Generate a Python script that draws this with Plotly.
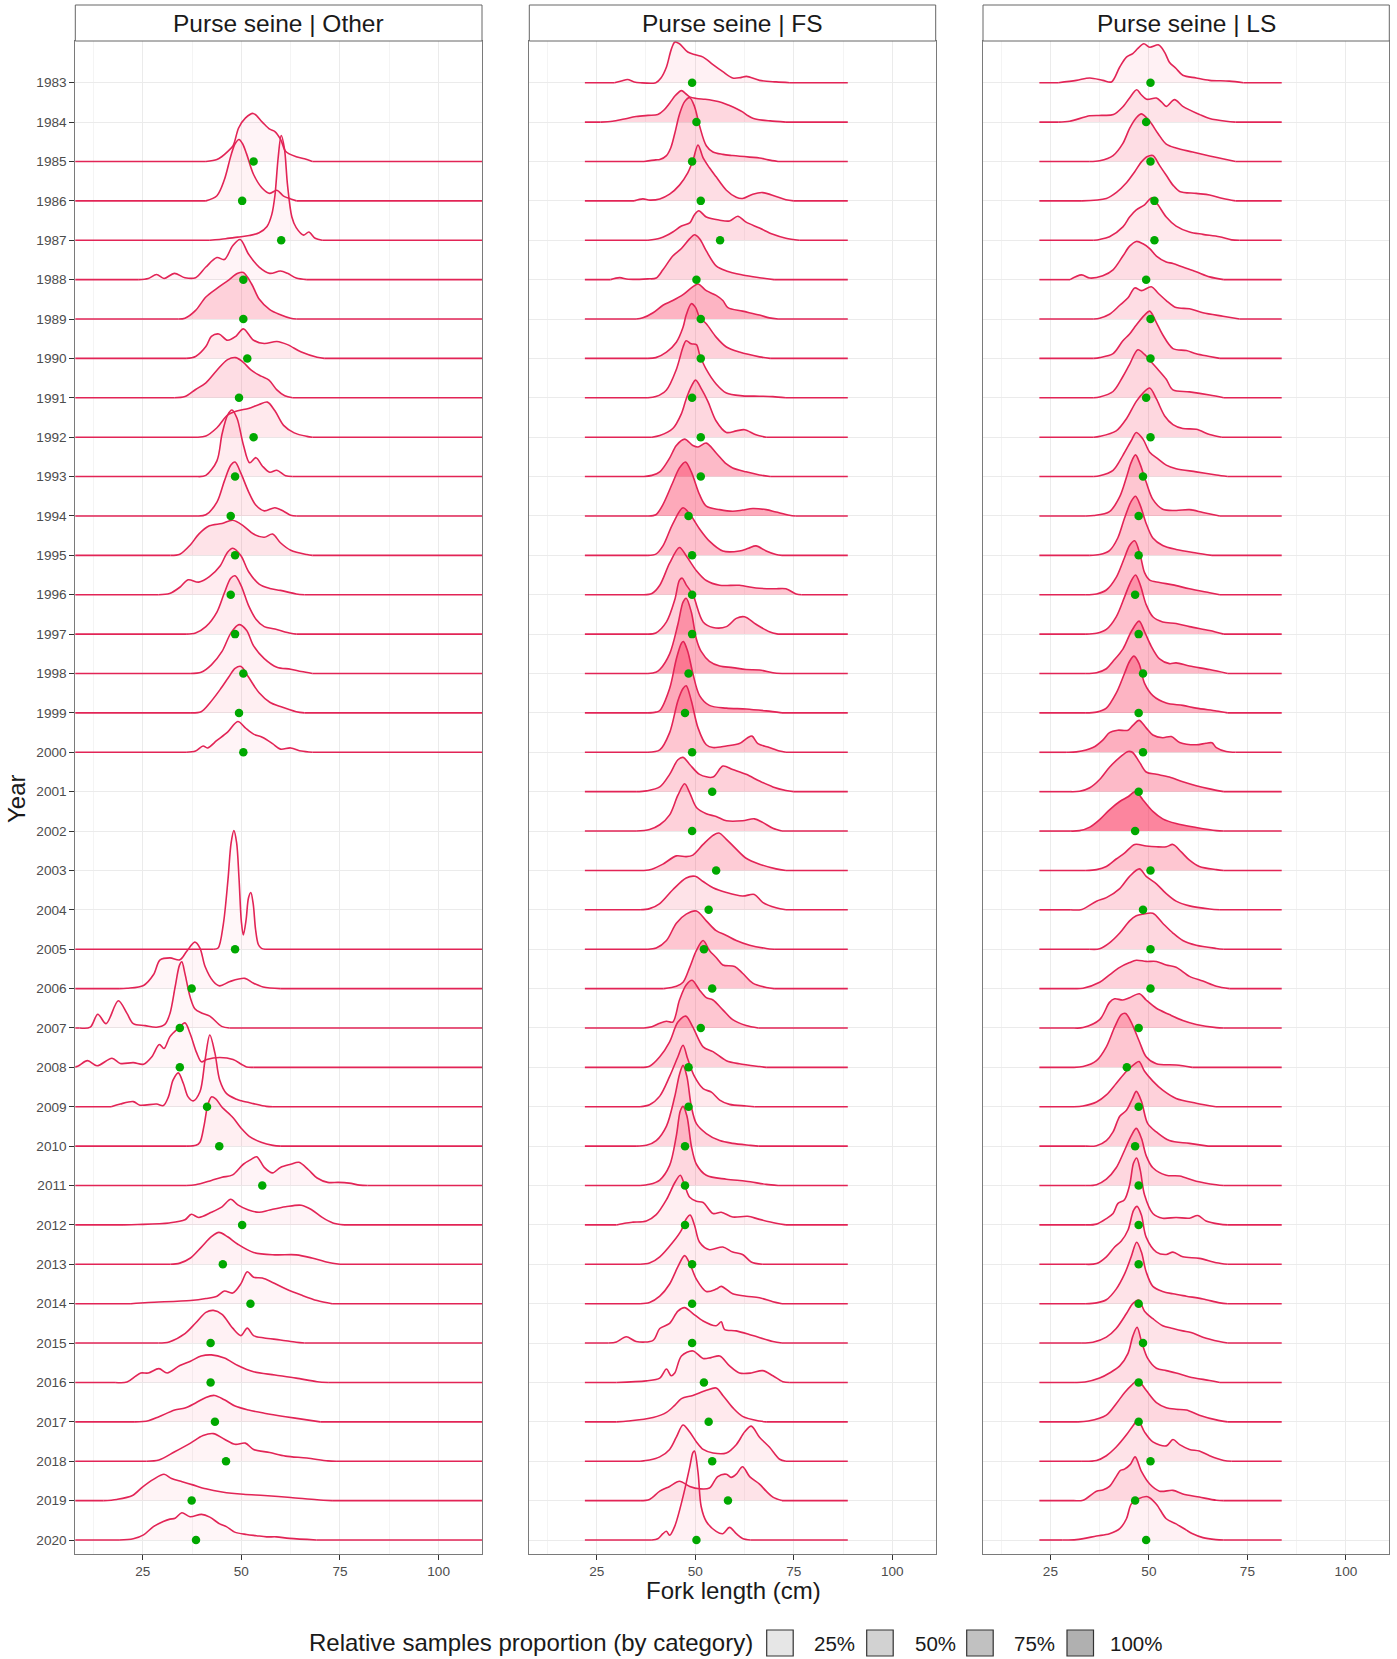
import plotly.graph_objects as go

# ---------------- data ----------------
YEARS = list(range(1983, 2021))
YEAR_LABELS = [str(y) for y in YEARS]
X_TICKS = [25, 50, 75, 100]
X_TICK_LABELS = ["25", "50", "75", "100"]
X_MINOR = [12.5, 37.5, 62.5, 87.5]
PANEL_TITLES = ["Purse seine | Other", "Purse seine | FS", "Purse seine | LS"]
LEGEND_LABELS = ["25%", "50%", "75%", "100%"]
LEGEND_GREYS = ["#E6E6E6", "#D2D2D2", "#C1C1C1", "#B0B0B0"]

# ridge = list of (fork length cm, ridge height in rows) knots
OTHER_YEARS = list(range(1985, 2001)) + list(range(2005, 2021))
OTHER_SPAN = (7.0, 112.0)
OTHER_MEAN = [53.1, 50.2, 60.1, 50.5, 50.5, 51.5, 49.4, 53.1, 48.4, 47.3, 48.4, 47.3, 48.4, 50.5, 49.4, 50.5,
              48.4, 37.4, 34.4, 34.4, 41.3, 44.4, 55.3, 50.2, 45.3, 52.3, 42.2, 42.2, 43.3, 46.1, 37.4, 38.5]
OTHER_PROP = [0.05, 0.07, 0.05, 0.05, 0.35, 0.15, 0.25, 0.15, 0.12, 0.15, 0.2, 0.12, 0.12, 0.08, 0.1, 0.05,
              0.03, 0.04, 0.04, 0.04, 0.05, 0.1, 0.05, 0.05, 0.08, 0.05, 0.08, 0.05, 0.08, 0.06, 0.06, 0.04]
OTHER_RIDGES = [
    [(41,0),(43.8,0.05),(45,0.12),(46.5,0.25),(47.9,0.4),(49.3,0.85),(51,1.1),(53,1.22),(55.3,1.0),(57.2,0.82),(58.5,0.76),(60,0.55),(61.2,0.26),(63.9,0.12),(66,0.07),(68,0)],
    [(41,0),(43.8,0.13),(45.7,0.54),(47.3,1.13),(48.4,1.45),(49.4,1.56),(50.3,1.45),(51.3,1.2),(53.1,0.67),(55.3,0.32),(57.2,0.19),(59,0.27),(60.7,0.12),(62.5,0.05),(64,0)],
    [(42,0),(46,0.04),(49.1,0.08),(52,0.12),(54.5,0.19),(56.5,0.35),(57.7,0.65),(58.5,1.13),(59.3,2.07),(60.1,2.66),(60.9,2.34),(61.7,1.4),(62.8,0.59),(63.9,0.32),(65.8,0.13),(67.1,0.21),(68.7,0.05),(70.5,0)],
    [(24,0),(26.4,0.03),(28.5,0.13),(30.4,0.03),(33,0.16),(35.7,0.05),(38.4,0.05),(41,0.32),(43.8,0.56),(45.7,0.51),(47.8,0.86),(49.7,1.02),(51.8,0.65),(54.5,0.32),(57.2,0.16),(59.9,0.22),(61.7,0.16),(63.9,0.04),(66.6,0)],
    [(34,0),(35.7,0.02),(38.4,0.22),(41,0.56),(43.8,0.78),(46.5,0.97),(49.1,1.16),(50.5,1.18),(52.6,0.89),(54.5,0.51),(57.2,0.24),(59.9,0.11),(62.5,0.02),(64,0)],
    [(36,0),(38.4,0.05),(41,0.3),(42.4,0.56),(44.3,0.62),(46.5,0.46),(48.6,0.56),(50.5,0.75),(53.1,0.46),(55.8,0.38),(59,0.43),(61.7,0.35),(65.2,0.16),(69.2,0.03),(71,0)],
    [(33,0),(35.7,0.03),(38.4,0.21),(41,0.38),(43.8,0.7),(46.5,0.97),(48.6,1.02),(50.5,0.9),(52.5,0.7),(55,0.55),(57,0.45),(59,0.2),(61,0.05),(63,0)],
    [(39,0),(41,0.03),(43.8,0.24),(46.5,0.56),(49.1,0.67),(51.8,0.73),(54.5,0.83),(56.6,0.89),(58.5,0.67),(60.7,0.3),(63.4,0.11),(66.6,0.02),(68,0)],
    [(39,0),(41,0.03),(43.8,0.4),(45.1,1.08),(46.5,1.56),(47.6,1.69),(48.9,1.48),(50.5,0.81),(52.1,0.35),(53.7,0.48),(55.3,0.27),(57.2,0.11),(59,0.16),(61.2,0.02),(63,0)],
    [(39,0),(41,0.03),(43.8,0.35),(45.7,0.89),(47.3,1.29),(48.4,1.37),(49.9,1.08),(51.8,0.62),(53.7,0.27),(55.8,0.13),(58.5,0.21),(60.7,0.12),(62.5,0.02),(64,0)],
    [(32,0),(34.4,0.03),(37.1,0.27),(39.2,0.54),(41.9,0.75),(45.1,0.81),(47.8,0.89),(50.5,0.75),(53.1,0.54),(55.8,0.46),(57.9,0.54),(59.9,0.32),(62.5,0.13),(66.6,0.02),(68,0)],
    [(29,0),(31.8,0.03),(34.4,0.19),(36.5,0.38),(39.2,0.32),(41.9,0.46),(44.6,0.73),(46.5,1.08),(47.8,1.18),(49.9,0.99),(51.8,0.59),(54.5,0.27),(57.2,0.16),(59.9,0.11),(63.9,0.02),(66,0)],
    [(36,0),(38.4,0.03),(41,0.19),(43.8,0.56),(45.7,1.05),(47.3,1.42),(48.4,1.48),(49.9,1.24),(51.8,0.73),(53.7,0.38),(55.8,0.19),(58.5,0.13),(62.5,0.02),(64,0)],
    [(37,0),(39.8,0.03),(42.4,0.22),(45.1,0.56),(47.3,1.02),(49.4,1.24),(51.3,1.1),(53.1,0.7),(55.8,0.38),(59,0.16),(62.5,0.11),(65.2,0.05),(68,0)],
    [(37,0),(39.8,0.03),(41.9,0.24),(44.6,0.59),(46.8,0.91),(48.4,1.13),(49.9,1.18),(51.8,0.91),(54.5,0.51),(57.2,0.27),(59.9,0.16),(63.9,0.03),(66,0)],
    [(36,0),(38.4,0.03),(40.3,0.16),(41.4,0.11),(43.8,0.3),(46.5,0.51),(49.1,0.78),(51,0.62),(53.1,0.46),(55.3,0.38),(57.9,0.22),(59.9,0.08),(62.5,0.11),(65.2,0.03),(68,0)],
    [(43,0),(44.1,0.03),(45.4,0.62),(46.6,1.76),(47.4,2.7),(48.1,3.01),(48.8,2.7),(49.4,1.8),(50,0.7),(50.5,0.36),(51.2,0.75),(51.8,1.3),(52.4,1.44),(53,1.15),(53.6,0.5),(54.3,0.12),(55.1,0.02),(56,0)],
    [(19,0),(21,0.01),(25.2,0.08),(27.7,0.35),(29.4,0.73),(31.9,0.78),(34.4,0.73),(36.1,0.94),(38.2,1.18),(39.5,1.03),(40.8,0.56),(42.9,0.18),(44.5,0.07),(47.1,0.18),(50.9,0.26),(53,0.14),(55.5,0.04),(60,0)],
    [(9,0),(11.7,0.02),(13.6,0.35),(15.7,0.11),(18.8,0.69),(21,0.37),(22.6,0.11),(25.6,0.06),(28.5,0.02),(30.6,0.09),(31.9,0.37),(33.2,1.04),(34.3,1.59),(34.9,1.68),(35.7,1.38),(37,0.79),(38.2,0.49),(39.9,0.38),(42,0.3),(45,0.04),(47,0)],
    [(7,0),(8.5,0.03),(11,0.17),(13.4,0.04),(17.2,0.23),(19.3,0.1),(22.6,0.12),(25.2,0.08),(27.3,0.27),(29.2,0.58),(30.4,0.48),(31.9,0.78),(34,0.99),(35.7,1.13),(37,0.86),(38.7,0.36),(39.9,0.14),(41.2,0.2),(44.5,0.25),(47.9,0.2),(50,0.08),(51.3,0.01),(53,0)],
    [(17,0),(19.3,0.07),(22.6,0.13),(24.3,0.04),(28.5,0.07),(30.2,0.03),(31.5,0.25),(32.7,0.68),(34,0.86),(35.3,0.59),(36.5,0.25),(37.8,0.15),(39.5,0.38),(40.8,1.19),(42,1.82),(43.3,1.36),(44.5,0.68),(46.2,0.34),(48.8,0.19),(50,0.15),(53,0.08),(56.3,0.01),(58,0)],
    [(36,0),(38.5,0.02),(39.5,0.1),(40.5,0.5),(41.5,1.05),(42.4,1.25),(43.5,1.2),(45,1.0),(47.9,0.72),(50,0.45),(52,0.25),(55,0.1),(58,0.02),(60,0)],
    [(36,0),(38.4,0.02),(42.4,0.13),(45.1,0.21),(47.8,0.27),(50.5,0.54),(52.6,0.67),(53.9,0.73),(55.8,0.46),(57.9,0.32),(59.9,0.46),(62.5,0.54),(64.6,0.59),(67,0.4),(69.2,0.19),(71.9,0.08),(74.6,0.08),(77.3,0.06),(80,0.01),(82,0)],
    [(20,0),(23.7,0.01),(31.7,0.05),(35.7,0.13),(37.3,0.27),(39.2,0.19),(42.4,0.32),(45.1,0.46),(47.3,0.65),(49.1,0.51),(51.8,0.38),(54.5,0.32),(57.2,0.38),(61.2,0.46),(65.2,0.5),(67.9,0.38),(70.5,0.19),(73.2,0.05),(76,0)],
    [(32,0),(34.4,0.03),(37.1,0.16),(39.8,0.43),(42.4,0.7),(44.3,0.81),(46.5,0.7),(49.1,0.51),(53.1,0.3),(58.5,0.24),(63.9,0.24),(67.9,0.16),(71.9,0.05),(75,0)],
    [(22,0),(26.4,0.03),(37.1,0.08),(41,0.13),(43.8,0.19),(45.7,0.32),(47.8,0.27),(49.9,0.51),(51.5,0.81),(53.1,0.67),(55.3,0.65),(57.9,0.54),(61.2,0.38),(65.2,0.22),(69.2,0.08),(73,0)],
    [(29,0),(31.7,0.03),(35.7,0.24),(38.4,0.51),(41,0.78),(42.9,0.83),(45.1,0.73),(47.8,0.38),(49.9,0.19),(51.5,0.38),(53.1,0.19),(55.8,0.13),(59.9,0.08),(63.9,0.02),(66,0)],
    [(18,0),(21,0.01),(23.2,0.16),(24.5,0.24),(26.4,0.24),(29.1,0.35),(31.2,0.24),(34.4,0.43),(37.1,0.54),(39.8,0.67),(42.4,0.7),(45.7,0.62),(49.1,0.43),(53.1,0.27),(58.5,0.19),(63.9,0.11),(69.2,0.02),(72,0)],
    [(23,0),(26.4,0.03),(29.1,0.13),(33.1,0.3),(35.7,0.35),(38.4,0.48),(41,0.62),(43.2,0.67),(45.7,0.56),(48.4,0.4),(51.8,0.3),(55.8,0.22),(61.2,0.13),(66.6,0.05),(70,0)],
    [(26,0),(29.1,0.03),(33.1,0.24),(37.1,0.46),(40.3,0.65),(42.9,0.7),(45.7,0.56),(48.4,0.43),(51,0.46),(53.1,0.3),(57.2,0.22),(61.2,0.13),(66.6,0.08),(71.9,0.01),(74,0)],
    [(15,0),(18.4,0.03),(22.4,0.13),(25,0.35),(27.7,0.54),(30.4,0.67),(32.3,0.56),(35,0.48),(37.7,0.4),(41,0.3),(45.1,0.22),(50.5,0.16),(55.8,0.13),(62.5,0.08),(69.2,0.02),(73,0)],
    [(19,0),(22.6,0.03),(25.2,0.13),(27.7,0.34),(30.2,0.47),(31.9,0.53),(33.2,0.55),(34.9,0.69),(37,0.59),(39.9,0.65),(42,0.58),(44.5,0.41),(46.2,0.34),(48.3,0.2),(51.3,0.14),(53.8,0.11),(56.4,0.08),(58.9,0.08),(62.2,0.04),(69,0)],
]

FS_YEARS = YEARS
FS_SPAN = (22.0, 88.7)
FS_MEAN = [49.2, 50.3, 49.2, 51.4, 56.3, 50.3, 51.4, 51.4, 49.2, 51.4, 51.4, 48.3, 49.2, 49.2, 49.2, 48.3, 47.4, 49.2, 54.3,
           49.2, 55.3, 53.4, 52.2, 54.3, 51.4, 48.3, 48.3, 47.4, 47.4, 47.4, 49.2, 49.2, 49.2, 52.2, 53.4, 54.3, 58.3, 50.3]
FS_PROP = [0.08, 0.3, 0.3, 0.25, 0.25, 0.3, 0.6, 0.35, 0.25, 0.3, 0.55, 0.7, 0.5, 0.45, 0.35, 0.65, 0.7, 0.45, 0.35,
           0.35, 0.4, 0.2, 0.45, 0.45, 0.45, 0.35, 0.15, 0.3, 0.3, 0.1, 0.12, 0.12, 0.1, 0.1, 0.15, 0.1, 0.2, 0.08]
FS_RIDGES = [
    [(29.5,0),(31.5,0.05),(32.8,0.08),(34.5,0.02),(36,0),(40,0),(41.3,0.12),(42.7,0.4),(43.9,0.84),(44.8,1.03),(46,0.99),(48.1,0.78),(50,0.71),(52,0.65),(54.5,0.46),(57,0.28),(59.5,0.12),(61.5,0.13),(63,0.16),(66.3,0.06),(70.5,0.02),(74,0)],
    [(26,0),(29,0.02),(32,0.08),(35,0.14),(38,0.17),(40.5,0.19),(42,0.3),(43.5,0.48),(45,0.68),(46.5,0.8),(47.6,0.72),(48.6,0.64),(50.3,0.6),(52.5,0.58),(54.5,0.55),(56.7,0.5),(58.7,0.42),(60.5,0.34),(62,0.26),(63.4,0.16),(64.6,0.1),(67,0.05),(69,0.03),(73,0)],
    [(37,0),(40,0.04),(41,0.05),(42.7,0.15),(43.8,0.35),(44.8,0.71),(46,1.2),(47.3,1.52),(48.6,1.62),(49.8,1.4),(51.1,0.9),(52.8,0.4),(54.5,0.24),(57,0.18),(59.5,0.15),(63.8,0.11),(66.3,0.09),(68.5,0.04),(71,0)],
    [(34.5,0),(36.7,0.05),(38.5,0.02),(41,0.05),(43.5,0.17),(46,0.4),(48.1,0.71),(49.4,1.02),(50.7,1.42),(52,1.09),(53.6,0.84),(55.3,0.61),(57.9,0.27),(60.4,0.09),(62,0.06),(64.6,0.17),(67.1,0.21),(70.5,0.11),(73,0.03),(75,0)],
    [(38,0),(41,0.05),(42.7,0.12),(44.3,0.21),(46.5,0.36),(48.6,0.44),(49.8,0.65),(50.9,0.75),(52.8,0.59),(56.2,0.51),(58.7,0.49),(60.8,0.61),(62.9,0.46),(66.3,0.31),(69.7,0.15),(73,0.05),(76.4,0)],
    [(28.5,0),(30.8,0.05),(33,0.01),(38,0.02),(40.1,0.04),(41.8,0.25),(44.3,0.6),(46.5,0.79),(48.6,1.04),(49.8,1.14),(51.1,1.04),(52.8,0.73),(55.3,0.35),(57.9,0.22),(62,0.12),(66.3,0.05),(70,0)],
    [(35,0),(36.7,0.03),(39.3,0.16),(41.8,0.35),(44.3,0.47),(46.9,0.62),(49,0.79),(50.7,0.89),(52.8,0.72),(55.3,0.6),(57,0.47),(58.3,0.29),(62,0.2),(66.3,0.1),(68.8,0.03),(71,0)],
    [(38,0),(40,0.02),(42.7,0.16),(45.2,0.41),(46.9,0.79),(47.7,1.1),(49,1.39),(50.1,1.29),(51.1,1.04),(52.8,0.88),(55.3,0.54),(57.9,0.29),(61.2,0.16),(66.3,0.04),(69,0)],
    [(38,0),(40,0.03),(42.7,0.2),(45.2,0.72),(46.9,1.29),(47.7,1.45),(49,1.37),(50.3,1.35),(51.1,1.1),(52.8,0.72),(55.3,0.35),(57.9,0.12),(62,0.05),(66.3,0.04),(69.7,0.03),(73,0)],
    [(39,0),(41,0.04),(44.3,0.22),(46.5,0.6),(47.7,0.97),(49,1.29),(50.1,1.45),(51.6,1.22),(53.2,0.91),(55.3,0.41),(57.9,0.12),(60.4,0.16),(62.5,0.19),(65.4,0.06),(68,0)],
    [(37,0),(39,0.03),(41,0.12),(43.5,0.47),(45.2,0.79),(47.3,0.95),(49.4,0.79),(50.7,0.75),(52.8,0.85),(55.3,0.6),(57.9,0.32),(59.5,0.22),(62.9,0.12),(66.3,0.04),(69,0)],
    [(38,0),(40,0.03),(41.8,0.29),(44.3,0.85),(46,1.22),(47.5,1.37),(49,1.12),(51.1,0.54),(52.8,0.25),(56.2,0.16),(59.5,0.12),(62,0.15),(64.6,0.19),(68,0.16),(70.5,0.1),(73.9,0.02),(75.5,0)],
    [(38,0),(40,0.03),(41.8,0.24),(44.3,0.8),(46.9,1.21),(49,0.99),(51.1,0.67),(53.6,0.36),(57,0.11),(61.2,0.11),(63.5,0.18),(65.4,0.24),(68,0.11),(70.5,0.02),(72,0)],
    [(37,0),(39,0.03),(41,0.24),(43.5,0.8),(46,1.2),(47.7,0.99),(50.3,0.61),(52.8,0.36),(56.2,0.24),(61.2,0.24),(65.4,0.17),(70,0.15),(73,0.15),(75.6,0.02),(77,0)],
    [(38,0),(40,0.03),(42.7,0.31),(44.8,0.87),(46,1.37),(46.7,1.42),(47.7,1.25),(49.4,1.0),(52,0.31),(54.5,0.17),(57.9,0.19),(60.4,0.4),(62.5,0.44),(65.4,0.25),(68.8,0.06),(71,0)],
    [(38,0),(40,0.03),(41,0.1),(43.5,0.5),(45.6,1.25),(46.9,1.81),(47.7,1.91),(49,1.56),(50.3,0.87),(51.5,0.56),(53.6,0.31),(56.2,0.19),(59.5,0.15),(62.9,0.1),(66.3,0.09),(69.7,0.02),(72,0)],
    [(38,0),(40,0.02),(41,0.06),(43.5,0.62),(45.2,1.37),(46.5,1.77),(47,1.81),(48.1,1.56),(49.4,1.0),(51.1,0.44),(53.6,0.19),(57.9,0.12),(62.9,0.1),(68,0.05),(72,0)],
    [(38,0),(41,0.06),(43.5,0.5),(45.6,1.31),(46.9,1.62),(47.7,1.69),(49,1.31),(50.7,0.62),(52.8,0.19),(54.5,0.12),(57.9,0.16),(61.2,0.22),(63.3,0.37),(64.4,0.41),(65.9,0.22),(68.8,0.12),(71.4,0.03),(73,0)],
    [(35,0),(37.6,0.02),(41,0.12),(43.5,0.44),(45.6,0.81),(46.9,0.87),(48.6,0.69),(51.1,0.44),(54.5,0.37),(57,0.65),(59.5,0.56),(62.9,0.44),(66.3,0.27),(69.7,0.12),(73,0.03),(75,0)],
    [(35,0),(38.4,0.04),(41,0.16),(43.5,0.41),(45.6,0.91),(47.3,1.2),(48.6,0.97),(50.3,0.6),(52.8,0.44),(55.3,0.37),(57.9,0.26),(62,0.26),(65,0.31),(67.1,0.22),(69.7,0.07),(72,0)],
    [(37,0),(39,0.03),(41.8,0.16),(45.2,0.37),(47.7,0.35),(49.4,0.39),(52,0.66),(54.5,0.89),(56,0.95),(57.9,0.79),(60.4,0.54),(62.9,0.31),(66.3,0.16),(70.5,0.04),(73,0)],
    [(36,0),(38.4,0.03),(41,0.16),(44.3,0.51),(47.7,0.81),(50,0.85),(52,0.72),(54.5,0.56),(57.9,0.44),(62,0.35),(65,0.39),(67.1,0.19),(70.5,0.05),(73,0)],
    [(38,0),(40.1,0.03),(42.7,0.22),(45.2,0.66),(47.7,0.89),(50.3,0.97),(52.8,0.72),(55.3,0.47),(57.9,0.35),(60.4,0.22),(63.8,0.1),(68,0.02),(70,0)],
    [(42,0),(45.2,0.06),(46.9,0.16),(48.6,0.54),(50.3,0.97),(52,1.22),(53.6,0.97),(55.3,0.79),(57,0.6),(60,0.56),(62,0.39),(64.6,0.14),(68,0.03),(70,0)],
    [(37,0),(39,0.03),(41,0.12),(42.7,0.17),(44.3,0.15),(46,0.71),(47.7,1.09),(49.2,1.21),(51.1,0.96),(52.8,0.77),(54.5,0.71),(57,0.46),(59.5,0.21),(62.9,0.06),(66,0)],
    [(36,0),(38.4,0.03),(41,0.27),(43.5,0.65),(45.6,1.15),(47.6,1.3),(49.4,1.02),(52,0.52),(54.5,0.4),(57.9,0.17),(61.2,0.09),(66.3,0.02),(68,0)],
    [(36,0),(38.4,0.05),(41,0.27),(43.5,0.77),(45.6,1.27),(46.9,1.56),(48.1,1.21),(49.8,0.77),(52,0.46),(54.1,0.37),(56.2,0.17),(58.7,0.06),(62.9,0.02),(65,0)],
    [(35,0),(37.6,0.02),(40.1,0.14),(42.7,0.51),(44.8,1.26),(46,1.82),(46.9,2.05),(47.9,1.76),(49,1.01),(50.3,0.57),(52.8,0.32),(56.2,0.14),(59.5,0.07),(64,0.02),(66,0)],
    [(36,0),(38.4,0.03),(41,0.14),(43.5,0.51),(45.2,1.26),(46.2,1.89),(46.9,2.01),(47.9,1.76),(49,1.01),(50.3,0.54),(52.8,0.26),(57.9,0.16),(62.9,0.11),(68,0.03),(71,0)],
    [(30,0),(32.5,0.05),(34.2,0.07),(37.6,0.1),(40.1,0.26),(42.7,0.64),(44.8,1.07),(46.2,1.26),(47.3,1.01),(48.6,0.7),(50.3,0.6),(52,0.57),(54.5,0.29),(56.6,0.32),(59.5,0.2),(63.3,0.22),(66.3,0.14),(70.5,0.04),(73,0)],
    [(36,0),(38.4,0.03),(41,0.19),(44.3,0.56),(46.5,0.87),(47.7,1.15),(48.7,1.25),(49.8,1.0),(51.1,0.56),(53.6,0.37),(57,0.44),(59.5,0.31),(62,0.25),(64.2,0.06),(67,0)],
    [(36,0),(38.4,0.03),(41,0.19),(43.5,0.5),(45.6,0.94),(47.3,1.22),(48.6,1.02),(50.3,0.62),(52.8,0.31),(55.3,0.37),(56.6,0.44),(59.5,0.25),(62.9,0.19),(66.3,0.15),(69.7,0.05),(72,0)],
    [(28,0),(30,0.03),(32.5,0.16),(35,0.04),(39.3,0.07),(41,0.37),(43.5,0.5),(45.6,0.81),(47.3,0.9),(49.4,0.75),(52,0.56),(55.3,0.44),(56.6,0.54),(57.4,0.35),(60.4,0.31),(64.6,0.19),(69.7,0.04),(72,0)],
    [(30,0),(37.6,0.04),(41,0.11),(42.7,0.34),(43.9,0.17),(44.8,0.24),(46.5,0.67),(49.4,0.8),(52,0.61),(54,0.63),(56.2,0.67),(58.7,0.42),(61.2,0.24),(64.2,0.24),(67.1,0.3),(69.7,0.17),(72.2,0.02),(74,0)],
    [(30,0),(33,0.02),(39.3,0.11),(42.7,0.24),(44.8,0.42),(46.5,0.59),(49.4,0.67),(52.8,0.8),(55.3,0.86),(57,0.67),(59.5,0.36),(62,0.14),(66.3,0.02),(68,0)],
    [(36,0),(38.4,0.03),(41,0.11),(43.5,0.3),(45.2,0.61),(46.9,0.92),(48.6,0.74),(50.3,0.49),(52,0.3),(54.5,0.21),(57.9,0.21),(60.4,0.42),(62.5,0.74),(64.2,0.89),(66.3,0.61),(68.8,0.36),(71.4,0.05),(73,0)],
    [(36,0),(38.4,0.03),(41,0.24),(43.5,0.36),(46,0.49),(48.6,0.36),(51.1,0.3),(53.6,0.32),(55.7,0.61),(57.9,0.67),(59.1,0.59),(60.4,0.67),(62,0.86),(63.8,0.61),(66.3,0.42),(68,0.24),(69.7,0.09),(72,0)],
    [(39,0),(40.5,0.03),(41.8,0.16),(42.7,0.22),(43.5,0.12),(44.8,0.35),(46.9,1.1),(48.6,1.85),(49.4,2.22),(49.8,2.26),(50.7,1.72),(51.5,0.85),(52.8,0.47),(55.3,0.22),(57,0.16),(58.7,0.32),(60.4,0.16),(62,0.04),(64,0)],
]

LS_YEARS = YEARS
LS_SPAN = (22.2, 83.7)
LS_MEAN = [50.4, 49.3, 50.4, 51.4, 51.4, 49.3, 50.4, 50.4, 49.3, 50.4, 48.5, 47.4, 47.4, 46.5, 47.4, 48.5, 47.4, 48.5, 47.4,
           46.5, 50.4, 48.5, 50.4, 50.4, 47.4, 44.4, 47.4, 46.5, 47.4, 47.4, 47.4, 47.4, 48.5, 47.4, 47.4, 50.4, 46.5, 49.3]
LS_PROP = [0.08, 0.2, 0.25, 0.15, 0.15, 0.25, 0.25, 0.3, 0.3, 0.3, 0.3, 0.45, 0.45, 0.5, 0.5, 0.55, 0.6, 0.65, 0.55,
           1.0, 0.45, 0.3, 0.3, 0.35, 0.4, 0.45, 0.35, 0.35, 0.3, 0.15, 0.15, 0.2, 0.2, 0.25, 0.3, 0.2, 0.3, 0.08]
LS_RIDGES = [
    [(27,0),(31.6,0.06),(35,0.12),(38.3,0.06),(40.5,0.02),(42.6,0.4),(44.3,0.65),(45.9,0.74),(47.2,0.87),(48.7,0.99),(50.2,0.9),(52.5,0.96),(54,0.77),(55.2,0.52),(56.9,0.36),(58.6,0.19),(62,0.12),(65.4,0.06),(70.4,0.04),(74,0)],
    [(27,0),(29.9,0.02),(35,0.16),(38,0.17),(41,0.19),(43.5,0.4),(45,0.6),(46.9,0.82),(48,0.7),(49.4,0.58),(51.9,0.61),(53.3,0.5),(54.4,0.4),(56.5,0.57),(58.6,0.4),(62.9,0.19),(65.4,0.09),(69.6,0.02),(72,0)],
    [(35,0),(37.5,0.02),(40.9,0.15),(43.4,0.46),(45.1,0.84),(46.8,1.11),(48.1,1.21),(50.2,1.02),(52.3,0.71),(54.4,0.44),(56.9,0.34),(61.1,0.24),(65.4,0.14),(69.6,0.05),(72,0)],
    [(33,0),(39.2,0.06),(41.7,0.21),(44.3,0.46),(46.4,0.74),(48.1,0.99),(49.5,1.12),(51,1.15),(52.7,0.9),(54.4,0.65),(56.1,0.4),(57.8,0.24),(62,0.19),(65.4,0.15),(68.8,0.06),(72,0)],
    [(36,0),(37.5,0.02),(40,0.09),(43.4,0.34),(45.1,0.59),(46.8,0.77),(48.9,0.9),(50.8,1.08),(52.3,0.9),(54.4,0.59),(56.9,0.36),(60.3,0.21),(63.7,0.15),(67.9,0.09),(71,0.01),(73,0)],
    [(30,0),(32.9,0.12),(35,0.04),(38.3,0.1),(40.9,0.25),(43.4,0.6),(45.1,0.85),(46.8,0.97),(48.5,0.91),(50.2,0.79),(51.9,0.6),(54.4,0.45),(56.1,0.41),(58.6,0.32),(62,0.2),(65.4,0.07),(69,0)],
    [(36,0),(37.5,0.02),(40,0.12),(42.6,0.35),(44.7,0.54),(46.4,0.79),(48.1,0.72),(50.6,0.82),(52.3,0.66),(54.4,0.47),(56.9,0.29),(60.3,0.26),(63.7,0.16),(68.8,0.07),(73,0)],
    [(36,0),(37.5,0.02),(40.9,0.12),(43.4,0.45),(45.1,0.62),(46.8,0.85),(48.9,1.1),(50.2,1.2),(51.9,0.91),(53.5,0.6),(56.1,0.25),(59.5,0.2),(62,0.12),(65.4,0.05),(68,0)],
    [(36,0),(37.5,0.02),(40.9,0.16),(43.4,0.54),(45.1,0.85),(47.2,1.22),(48.9,1.1),(50.6,0.91),(52.3,0.72),(54.4,0.47),(56.1,0.2),(60.3,0.15),(65.4,0.07),(69,0)],
    [(36,0),(37.5,0.02),(41.7,0.16),(44.3,0.47),(46.8,0.91),(48.5,1.12),(50.2,1.25),(51.9,0.97),(54,0.54),(56.1,0.32),(58.6,0.22),(62,0.2),(65.4,0.07),(68.5,0)],
    [(36,0),(37.5,0.02),(40.9,0.16),(43.4,0.54),(45.5,0.91),(46.8,1.12),(48.5,0.95),(50.2,0.62),(52.3,0.45),(54.4,0.29),(56.9,0.2),(62,0.12),(67.1,0.04),(70,0)],
    [(34,0),(36,0.01),(40,0.11),(42.6,0.49),(44.3,0.98),(45.5,1.36),(46.6,1.55),(47.6,1.36),(49.3,0.86),(51,0.42),(53.5,0.17),(56.9,0.14),(60.3,0.16),(63.7,0.09),(68,0)],
    [(35,0),(37.5,0.02),(40,0.12),(42.1,0.44),(43.8,0.94),(45.5,1.37),(46.6,1.5),(47.8,1.27),(49.3,0.81),(51,0.44),(53.5,0.25),(56.9,0.15),(62,0.06),(66,0)],
    [(34,0),(36.7,0.02),(39.2,0.12),(41.7,0.44),(43.8,0.94),(45.1,1.25),(46.4,1.37),(47.8,1.0),(48.9,0.56),(50.2,0.37),(52.7,0.31),(56.1,0.25),(60.3,0.15),(65.4,0.05),(68,0)],
    [(34,0),(36.7,0.02),(39.2,0.12),(41.7,0.44),(43.8,0.94),(45.3,1.31),(46.6,1.5),(47.8,1.25),(49.3,0.75),(51,0.44),(53.5,0.31),(56.9,0.27),(60.3,0.19),(65.4,0.09),(69,0)],
    [(34,0),(36.7,0.02),(39.2,0.12),(40.9,0.31),(43.4,0.62),(45.5,1.06),(47.5,1.33),(48.9,1.06),(50.6,0.69),(52.7,0.37),(55.2,0.25),(56.9,0.27),(60.3,0.19),(65.4,0.1),(70,0)],
    [(34,0),(36.7,0.02),(39.2,0.12),(41.7,0.5),(43.8,1.0),(45.1,1.31),(46.2,1.44),(47.5,1.25),(48.9,0.75),(51,0.44),(54.4,0.25),(58.6,0.19),(62,0.12),(67.1,0.05),(70,0)],
    [(29,0),(31.6,0.01),(35.8,0.12),(38.3,0.31),(40,0.5),(42.1,0.56),(44.7,0.56),(46,0.69),(47.5,0.81),(49.3,0.62),(51,0.44),(53.5,0.37),(55.7,0.4),(57.8,0.25),(62,0.19),(64.5,0.23),(66,0.24),(67.1,0.12),(69.6,0.02),(72,0)],
    [(30,0),(32.4,0.01),(35,0.1),(37.5,0.31),(40,0.62),(42.6,0.87),(44.7,1.02),(45.8,1.0),(47.6,0.75),(49.3,0.5),(51.9,0.44),(55.2,0.37),(58.6,0.25),(62,0.15),(65.4,0.07),(69,0)],
    [(30,0),(32.4,0.01),(35,0.1),(37.5,0.29),(40,0.54),(42.6,0.75),(44.7,0.87),(46.6,1.0),(48.5,0.79),(51,0.5),(53.5,0.31),(56.9,0.19),(62,0.09),(67.1,0.01),(69,0)],
    [(34,0),(36.7,0.02),(39.2,0.1),(41.7,0.29),(43.8,0.44),(46.4,0.66),(49.3,0.62),(51.9,0.6),(54.4,0.6),(56.1,0.66),(58.2,0.47),(60.3,0.26),(62.8,0.1),(67.1,0.02),(69,0)],
    [(30,0),(33,0.01),(36.7,0.22),(39.2,0.31),(42.6,0.54),(45.1,0.85),(47.6,1.04),(49.3,0.85),(51.9,0.66),(54.4,0.41),(56.9,0.22),(60.3,0.1),(65.4,0.02),(68,0)],
    [(35,0),(37.5,0.01),(40,0.16),(42.6,0.41),(45.1,0.72),(46.8,0.85),(48.5,0.89),(51,0.91),(53.5,0.66),(56.1,0.41),(58.6,0.22),(62,0.1),(67.1,0.02),(69,0)],
    [(31,0),(33.3,0.01),(37.5,0.16),(40,0.35),(42.6,0.54),(45.1,0.66),(46.8,0.72),(49.3,0.69),(51.9,0.69),(54.4,0.6),(56.9,0.54),(60.3,0.31),(63.7,0.19),(67.1,0.06),(70.5,0)],
    [(31,0),(33.3,0.01),(37.5,0.21),(40,0.65),(41.3,0.74),(43.4,0.71),(45.1,0.77),(47.6,0.87),(49.3,0.71),(51.9,0.5),(55.2,0.34),(58.6,0.19),(62,0.09),(67.1,0.01),(69,0)],
    [(31,0),(33.3,0.02),(36.7,0.17),(39.2,0.52),(41.3,1.02),(43,1.34),(44.1,1.37),(45.5,1.15),(47.6,0.65),(49.3,0.27),(51.9,0.09),(56.9,0.06),(61,0)],
    [(31,0),(33.3,0.02),(36.7,0.12),(39.2,0.3),(41.7,0.59),(44.3,0.9),(46.4,1.09),(47.5,1.15),(48.9,0.9),(51,0.65),(53.5,0.42),(56.9,0.21),(62,0.09),(67,0)],
    [(34,0),(36.7,0.01),(39.2,0.14),(40.9,0.36),(42.6,0.76),(44.3,0.91),(45.8,1.2),(46.8,1.39),(48.1,1.14),(49.7,0.57),(51.9,0.36),(55.2,0.14),(60.3,0.07),(65,0)],
    [(34,0),(36.7,0.02),(39.2,0.16),(41.7,0.45),(43.8,0.89),(45.5,1.26),(46.8,1.45),(48.1,1.2),(49.3,0.76),(51,0.45),(54.4,0.26),(57.8,0.24),(62,0.11),(67.1,0.02),(69,0)],
    [(34,0),(36.7,0.02),(39.2,0.16),(40.9,0.29),(42.1,0.54),(43.8,0.64),(45.1,1.01),(46.1,1.57),(46.9,1.7),(47.8,1.39),(48.9,0.76),(51,0.29),(53.5,0.17),(56.9,0.19),(60.3,0.17),(62.4,0.24),(64.5,0.1),(67.9,0.02),(70,0)],
    [(34,0),(36.7,0.02),(39.2,0.19),(41.3,0.44),(43,0.59),(44.7,0.87),(46.1,1.37),(47,1.47),(48.1,1.25),(49.3,0.69),(51.9,0.31),(54.4,0.25),(56.1,0.31),(58.6,0.19),(62.8,0.15),(67.1,0.04),(70,0)],
    [(34,0),(36.7,0.02),(39.2,0.1),(41.7,0.37),(43.8,0.75),(45.5,1.19),(46.9,1.56),(48.1,1.31),(49.3,0.81),(51,0.44),(53.5,0.31),(56.1,0.25),(59.5,0.19),(63.7,0.12),(68,0.02),(70,0)],
    [(33,0),(35.8,0.02),(39.2,0.15),(41.7,0.37),(44.3,0.75),(45.9,1.0),(47.4,1.09),(48.9,0.81),(51,0.62),(53.5,0.44),(56.1,0.37),(58.6,0.31),(60.7,0.27),(63.7,0.15),(67.9,0.04),(70,0)],
    [(31,0),(33.8,0.01),(37.5,0.11),(40,0.24),(42.6,0.42),(44.7,0.74),(45.9,1.17),(47,1.4),(48.1,1.05),(49.7,0.61),(51.9,0.36),(54.4,0.3),(56.9,0.24),(60.3,0.14),(65.4,0.05),(68,0)],
    [(32,0),(34.6,0.02),(39.2,0.17),(41.7,0.46),(43.8,0.74),(45.5,0.92),(47.2,1.05),(49.3,0.8),(51.9,0.49),(54.4,0.36),(56.9,0.32),(59.5,0.3),(62.8,0.17),(67.1,0.05),(70,0)],
    [(33,0),(36.7,0.02),(39.2,0.14),(41.7,0.36),(44.3,0.67),(46.1,0.92),(47.2,1.05),(48.9,0.74),(51,0.49),(54.4,0.39),(56.1,0.55),(57.8,0.42),(60.3,0.3),(62.8,0.26),(65.4,0.14),(69,0.02),(71,0)],
    [(31,0),(33.3,0.01),(36.7,0.24),(38.3,0.27),(40,0.36),(41.7,0.61),(42.7,0.76),(43.8,0.8),(45.3,0.92),(46.5,1.11),(48.1,0.74),(50.2,0.42),(52.7,0.24),(56.1,0.26),(58.6,0.17),(62.8,0.09),(67.1,0.01),(69,0)],
    [(28,0),(31.6,0.01),(36.7,0.1),(40,0.16),(42.6,0.29),(44.3,0.54),(45.5,0.91),(47.2,1.04),(49.7,1.1),(51.9,0.91),(54.4,0.54),(56.9,0.41),(59.5,0.25),(61.1,0.16),(63.7,0.06),(67,0.01),(69,0)],
]

# ---------------- figure ----------------
W, H = 1397, 1659
FONT = "Liberation Sans, Arial, Helvetica, sans-serif"
LINE_COLOR = "rgb(226,36,86)"
DOT_COLOR = "#00A800"
X_RANGE = [7.9, 111.0]
Y_RANGE = [-0.3555, 38.059]
X_DOMAINS = [[75.3 / W, 482.0 / W], [529.3 / W, 935.7 / W], [983.0 / W, 1389.3 / W]]
Y_DOMAIN = [1 - 1554 / H, 1 - 41 / H]


def row_pos(year):
    return 2020 - year


fig = go.Figure()

panels = [
    (OTHER_YEARS, OTHER_SPAN, OTHER_RIDGES, OTHER_MEAN, OTHER_PROP),
    (FS_YEARS, FS_SPAN, FS_RIDGES, FS_MEAN, FS_PROP),
    (LS_YEARS, LS_SPAN, LS_RIDGES, LS_MEAN, LS_PROP),
]

for i, (years, span, ridges, means, props) in enumerate(panels):
    xa = "x" if i == 0 else f"x{i + 1}"
    ya = "y" if i == 0 else f"y{i + 1}"
    for yr, knots, p in zip(years, ridges, props):
        base = row_pos(yr)
        kx = [k[0] for k in knots]
        ky = [base + k[1] for k in knots]
        alpha = 0.02 + 0.52 * p
        fig.add_trace(go.Scatter(
            x=kx, y=ky, mode="lines", fill="toself",
            fillcolor=f"rgba(250,30,75,{alpha:.3f})",
            line=dict(color=LINE_COLOR, width=1.6, shape="spline", smoothing=0.9),
            xaxis=xa, yaxis=ya, hoverinfo="skip", showlegend=False))
        fig.add_trace(go.Scatter(
            x=[span[0], kx[0], None, kx[-1], span[1]],
            y=[base, base, None, base, base], mode="lines",
            line=dict(color=LINE_COLOR, width=1.6),
            xaxis=xa, yaxis=ya, hoverinfo="skip", showlegend=False))

for i, (years, span, ridges, means, props) in enumerate(panels):
    xa = "x" if i == 0 else f"x{i + 1}"
    ya = "y" if i == 0 else f"y{i + 1}"
    fig.add_trace(go.Scatter(
        x=means, y=[row_pos(y) for y in years], mode="markers",
        marker=dict(color=DOT_COLOR, size=8.5, line=dict(width=0)),
        xaxis=xa, yaxis=ya, hoverinfo="skip", showlegend=False))

layout = dict(
    width=W, height=H, margin=dict(l=0, r=0, t=0, b=0),
    paper_bgcolor="white", plot_bgcolor="white", showlegend=False,
    font=dict(family=FONT, color="#1A1A1A"),
)

for i in range(3):
    xkey = "xaxis" if i == 0 else f"xaxis{i + 1}"
    ykey = "yaxis" if i == 0 else f"yaxis{i + 1}"
    layout[xkey] = dict(
        domain=X_DOMAINS[i], range=X_RANGE, anchor="y" if i == 0 else f"y{i + 1}",
        tickmode="array", tickvals=X_TICKS, ticktext=X_TICK_LABELS,
        showgrid=True, gridcolor="#EBEBEB", gridwidth=1.1, zeroline=False,
        minor=dict(tickvals=X_MINOR, showgrid=True, gridcolor="#F4F4F4", gridwidth=0.8, ticks=""),
        showline=True, mirror=True, linecolor="#7A7A7A", linewidth=1,
        ticks="outside", ticklen=5, tickwidth=1, tickcolor="#333333",
        tickfont=dict(family=FONT, size=13.6, color="#4D4D4D"), fixedrange=True)
    layout[ykey] = dict(
        domain=Y_DOMAIN, range=Y_RANGE, anchor="x" if i == 0 else f"x{i + 1}",
        tickmode="array", tickvals=[row_pos(y) for y in YEARS], ticktext=YEAR_LABELS,
        showgrid=True, gridcolor="#EBEBEB", gridwidth=1.1, zeroline=False,
        showline=True, mirror=True, linecolor="#7A7A7A", linewidth=1,
        ticks="outside" if i == 0 else "", ticklen=5, tickwidth=1, tickcolor="#333333",
        showticklabels=(i == 0),
        tickfont=dict(family=FONT, size=13.6, color="#4D4D4D"), fixedrange=True)

fig.update_layout(**layout)

shapes = []
annotations = []
for i in range(3):
    x0, x1 = X_DOMAINS[i]
    shapes.append(dict(type="rect", xref="paper", yref="paper", x0=x0, x1=x1,
                       y0=1 - 41 / H, y1=1 - 5 / H, fillcolor="white",
                       line=dict(color="#666666", width=1)))
    annotations.append(dict(text=PANEL_TITLES[i], xref="paper", yref="paper",
                            x=(x0 + x1) / 2, y=1 - 23 / H, showarrow=False,
                            xanchor="center", yanchor="middle",
                            font=dict(family=FONT, size=24.5, color="#1A1A1A")))

annotations.append(dict(text="Fork length (cm)", xref="paper", yref="paper",
                        x=733 / W, y=1 - 1590 / H, showarrow=False,
                        xanchor="center", yanchor="middle",
                        font=dict(family=FONT, size=24, color="#1A1A1A")))
annotations.append(dict(text="Year", xref="paper", yref="paper",
                        x=16 / W, y=1 - 799 / H, showarrow=False, textangle=-90,
                        xanchor="center", yanchor="middle",
                        font=dict(family=FONT, size=24, color="#1A1A1A")))
annotations.append(dict(text="Relative samples proportion (by category)", xref="paper", yref="paper",
                        x=755 / W, y=1 - 1642 / H, showarrow=False,
                        xanchor="right", yanchor="middle",
                        font=dict(family=FONT, size=24, color="#1A1A1A")))

box_left = [766.7, 866.7, 966.7, 1067.0]
label_left = [811.7, 912.7, 1012.0, 1108.0]
for bl, ll, lab, grey in zip(box_left, label_left, LEGEND_LABELS, LEGEND_GREYS):
    shapes.append(dict(type="rect", xref="paper", yref="paper",
                       x0=bl / W, x1=(bl + 26.5) / W, y0=1 - 1656 / H, y1=1 - 1630 / H,
                       fillcolor=grey, line=dict(color="#333333", width=1.2)))
    annotations.append(dict(text=lab, xref="paper", yref="paper",
                            x=ll / W, y=1 - 1643 / H, showarrow=False,
                            xanchor="left", yanchor="middle",
                            font=dict(family=FONT, size=20.5, color="#1A1A1A")))

fig.update_layout(shapes=shapes, annotations=annotations)
fig.write_html("out.html")
